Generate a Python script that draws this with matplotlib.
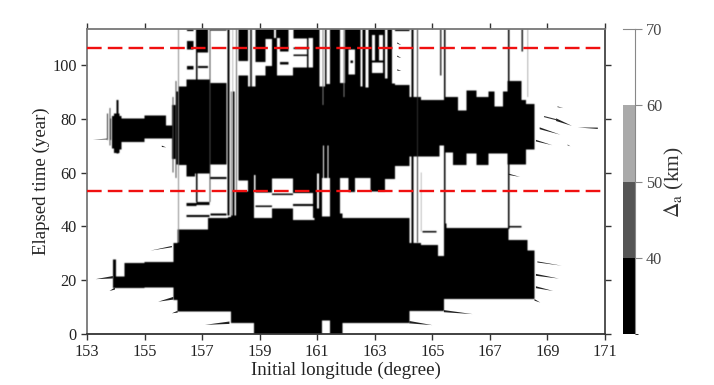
import matplotlib as mpl
mpl.use('Agg')
import matplotlib.pyplot as plt
from matplotlib.colors import ListedColormap, BoundaryNorm
from matplotlib.cm import ScalarMappable
import numpy as np

plt.rcParams['font.family'] = ['Liberation Serif', 'DejaVu Serif']
plt.rcParams['mathtext.fontset'] = 'stix'

X_TICKS = [153, 155, 157, 159, 161, 163, 165, 167, 169, 171]
Y_TICKS = [0, 20, 40, 60, 80, 100]
Y_TOP = 113.3
RED_LINES = [53, 106.2]
CB_LEVELS = [30, 40, 50, 60, 70]
CB_TICKS = [40, 50, 60, 70]
CB_COLORS = ['#000000', '#555555', '#aaaaaa', '#ffffff']

# region with Delta_a below 40 km, lower block: edges, then bottom / top of each piece
lower_lon = [153.9, 154.0, 154.3, 155.0, 156.0, 156.15, 157.2, 157.9, 158.0, 158.2, 158.8, 159.42, 160.15,
             160.9, 161.16, 161.45, 161.8, 161.87, 164.2, 164.6, 165.2, 165.4, 165.5, 167.65, 168.3, 168.55]
lower_bot = [17, 17, 17, 17.3, 12.6, 8.3, 8.3, 8.3, 4, 4, 0, 0, 0,
             0, 5, 0, 0, 4, 8.5, 8.5, 8.5, 13, 13, 13, 13]
lower_top = [27.6, 21.4, 26.3, 26.8, 33.8, 38.8, 43, 43.5, 53, 53, 43, 46.7, 42.3,
             43.7, 43.6, 113.3, 44.8, 43, 33.8, 33, 29, 41, 39.4, 35, 31]

# middle block
upper_lon = [153.8, 153.87, 153.93, 154.13, 154.2, 155.0, 155.75, 155.95, 156.1, 156.2, 156.45, 156.75, 157.25, 157.85, 158.26,
             158.6, 158.85, 159.2, 159.42, 159.6, 160.15, 160.64, 160.7, 160.85, 161.08, 161.16, 161.27, 161.33,
             161.45, 161.8, 161.97, 162.09, 162.32, 162.5, 162.57, 162.67, 162.78, 162.85, 162.9, 163.28, 163.35,
             163.45, 163.6, 163.7, 164.2, 164.6, 165.25, 165.45, 165.72, 165.89, 166.18, 166.53, 166.95, 167.16,
             167.45, 167.62, 168.09, 168.26, 168.55]
upper_bot = [72, 69, 67.3, 68.5, 71.4, 72.6, 72.6, 65, 63, 62.7, 58.5, 59.7, 63, 44, 57,
             53, 52.6, 52.6, 57.8, 57.8, 52.3, 52.3, 52.3, 43, 43, 58, 58, 58,
             43, 58, 58, 52.8, 58, 58, 58, 58, 58, 53, 53, 53, 57.5,
             57.5, 57.5, 62.5, 66, 66, 70, 67.5, 62.7, 62.7, 67, 62.7, 67, 67,
             67, 63, 63, 68.6]
upper_top = [80, 81, 82, 81, 80, 81.2, 77.5, 85, 90, 92, 94.5, 94.5, 93.3, 90, 96,
             92, 96, 99.5, 99, 96, 99, 113.3, 99, 113.3, 92, 92, 113.3, 92.8,
             113.3, 93.3, 113.3, 96.4, 113.3, 92, 113.3, 91.5, 113.3, 113.3, 97, 113.3, 95,
             113.3, 93, 92.5, 88, 87, 87, 88, 88, 83, 90.5, 88, 90, 84.5,
             90, 94, 87, 85.5]

# top block, always runs up to the axes top
top_lon = [156.47, 156.7, 156.78, 157.2, 157.3, 157.85, 158.26, 158.6, 158.85, 159.2, 159.42, 159.6, 159.71,
           160.0, 160.17, 160.64, 160.7, 160.85, 162.09, 162.32, 162.9, 163.28, 163.7, 164.2]
top_bot = [112.5, 113.3, 104.5, 113.3, 112.7, 113.3, 101.5, 113.3, 101, 109.5, 99, 110, 105,
           113.3, 109.8, 113.3, 110, 113.3, 105.7, 113.3, 111, 113.3, 112.5]

# thin vertical streaks: lon, width, from, to, darkness
spike_lon = [153.7, 153.79, 154.03, 155.97, 156.07, 156.17, 156.78, 157.25, 157.89, 158.05, 158.18, 158.66, 161.18,
             161.92, 164.27, 164.47, 164.6, 165.27, 165.4, 167.63, 168.1, 168.3]
spike_w = [0.03, 0.03, 0.06, 0.04, 0.04, 0.03, 0.06, 0.05, 0.06, 0.03, 0.04, 0.08, 0.03,
           0.03, 0.07, 0.04, 0.03, 0.04, 0.06, 0.05, 0.05, 0.03]
spike_y0 = [72, 70, 67, 60, 58, 34, 49, 49, 44, 53, 53, 92, 85,
            88, 33, 34, 38, 96, 28, 39, 105, 88]
spike_y1 = [82, 84, 87, 88, 94, 113.3, 113.3, 113.3, 113.3, 113.3, 113.3, 113.3, 113.3,
            113.3, 113.3, 113.3, 60, 113.3, 113.3, 113.3, 113.3, 113.3]
spike_v = [0.8, 0.7, 1, 0.7, 0.7, 0.45, 1, 0.7, 1, 0.5, 0.6, 0.8, 0.5,
           0.5, 1, 0.8, 0.5, 0.8, 1, 1, 0.9, 0.6]

# white streaks cutting through the black
gap_lon = [153.84, 157.85, 157.95, 158.02, 158.13, 158.22, 158.8, 161.0, 161.2, 161.35, 159.5, 164.36, 164.52]
gap_w = [0.03, 0.04, 0.05, 0.03, 0.05, 0.04, 0.05, 0.07, 0.03, 0.04, 0.06, 0.05, 0.04]
gap_y0 = [68, 44, 44, 44, 44, 53, 47, 46.7, 58, 58, 110, 34, 34]
gap_y1 = [84, 90, 90, 90, 90, 90, 59, 59.7, 70, 70, 113.3, 50, 62]

# stripes inside the white bands
stripe_lon = [156.47, 156.47, 156.85, 159.71, 160.17, 160.17, 163.01, 162.9, 162.15, 156.45, 156.8, 156.45, 157.3,
              157.3, 158.85, 159.42, 160.15, 164.65, 167.65]
stripe_end = [156.7, 156.7, 157.2, 160.0, 160.64, 160.64, 163.15, 163.28, 162.25, 156.8, 157.25, 157.25, 157.85,
              157.9, 159.42, 160.15, 161.0, 165.15, 168.1]
stripe_y0 = [105.7, 98.2, 98.8, 100.2, 103.2, 105.8, 101, 100.9, 100.6, 47.5, 48, 43.4, 57.5,
             44, 47.2, 51.7, 47.6, 37.7, 39.5]
stripe_y1 = [108.8, 99.5, 99.6, 101, 103.9, 106.5, 111, 101.6, 101.6, 48.6, 49, 44.2, 58.3,
             44.8, 47.8, 52.2, 48.2, 38.3, 40.2]

# tapering tails: thick end lon / y, thin end lon / y, thickness
tail_lon0 = [153.9, 153.97, 156.0, 156.15, 157.95, 155.95, 164.2, 165.4, 168.55, 168.6, 168.6, 168.65,
             169.3, 168.73, 168.6, 170.75, 167.65, 153.7, 155.6, 163.78, 163.78, 163.78, 169.35, 169.7]
tail_y0 = [21.1, 16.9, 13.3, 8.3, 4.2, 32.5, 4.4, 8.5, 12.7, 17.4, 22, 26.8,
           79.7, 76.5, 71.9, 76.5, 59.4, 72.5, 69.8, 108.2, 103.3, 98.2, 84.5, 70.3]
tail_lon1 = [153.3, 153.78, 155.47, 155.95, 157.1, 155.2, 165.0, 166.4, 168.75, 169.2, 169.4, 169.5,
             169.85, 169.45, 169.17, 170.05, 168.05, 153.2, 155.75, 163.92, 163.92, 163.92, 169.55, 169.8]
tail_y1 = [20.4, 16, 12, 7.7, 3.4, 31, 3.3, 7.4, 11.7, 16, 20.6, 25.4,
           77.4, 74.1, 70.2, 76.8, 58.4, 72.3, 69.4, 107.4, 102.6, 97.8, 84, 69.8]
tail_th = [0.9, 0.8, 1.0, 0.7, 0.9, 0.5, 0.9, 0.8, 0.6, 0.7, 0.7, 0.4,
           1.0, 0.7, 0.6, 0.5, 0.5, 0.3, 0.5, 0.5, 0.5, 0.5, 0.3, 0.3]
tail2_lon0 = [168.9]
tail2_y0 = [80.8]
tail2_lon1 = [169.3]
tail2_y1 = [79.7]

NX, NY = 1036, 610
lon_c = 153 + (np.arange(NX) + 0.5)*18./NX
yr_c = (np.arange(NY) + 0.5)*Y_TOP/NY
grid = np.zeros((NY, NX))


def put(l0, l1, y0, y1, val):
    grid[np.ix_((yr_c >= y0) & (yr_c < y1), (lon_c >= l0) & (lon_c < l1))] = val


def put_block(lon, bot, top):
    for i in range(len(bot)):
        put(lon[i], lon[i+1], bot[i], top[i], 1.0)


def smooth(arr, axis):
    kernel = np.array([1, 4, 6, 4, 1])/16.
    return np.apply_along_axis(lambda v: np.convolve(np.pad(v, 2, mode='edge'), kernel, mode='valid'), axis, arr)


put_block(lower_lon, lower_bot, lower_top)
put_block(upper_lon, upper_bot, upper_top)
put_block(top_lon, top_bot, [Y_TOP]*len(top_bot))
for i in range(len(stripe_lon)):
    put(stripe_lon[i], stripe_end[i], stripe_y0[i], stripe_y1[i], 1.0)
for i in range(len(spike_lon)):
    put(spike_lon[i], spike_lon[i]+spike_w[i], spike_y0[i], spike_y1[i], spike_v[i])
for i in range(len(gap_lon)):
    put(gap_lon[i], gap_lon[i]+gap_w[i], gap_y0[i], gap_y1[i], 0.0)
grid = smooth(smooth(grid, 0), 1)

fig = plt.figure(figsize=(7.14, 3.85), dpi=100)
ax = fig.add_axes([87/714., 1-334/385., 518/714., 304.7/385.])
ax.imshow(grid, origin='lower', extent=[153, 171, 0, Y_TOP], aspect='auto', cmap='gray_r', vmin=0, vmax=1,
          interpolation='antialiased')

for i in range(len(tail_lon0)):
    ax.fill([tail_lon0[i], tail_lon1[i], tail_lon0[i]],
            [tail_y0[i]+tail_th[i]/2., tail_y1[i], tail_y0[i]-tail_th[i]/2.],
            color='#222222', linewidth=0)
ax.plot(tail2_lon0 + tail2_lon1, tail2_y0 + tail2_y1, color='#333333', lw=0.8)

for y in RED_LINES:
    ax.axhline(y, color='#f01010', lw=1.7, dashes=(6.2, 2.6), zorder=5)

ax.set_xlim(153, 171)
ax.set_ylim(0, Y_TOP)
ax.set_xticks(X_TICKS)
ax.set_yticks(Y_TICKS)
ax.tick_params(axis='both', direction='out', length=4.5, width=1.0, color='#333333', labelsize=11.7,
               top=True, right=True, labelcolor='#222222', pad=3)
for side in ax.spines:
    ax.spines[side].set_linewidth(1.3)
    ax.spines[side].set_color('#777777')
ax.spines['bottom'].set_color('#333333')
ax.spines['right'].set_color('#444444')
ax.set_xlabel('Initial longitude (degree)', fontsize=13.7, color='#222222', labelpad=1)
ax.set_ylabel('Elapsed time (year)', fontsize=13.6, color='#222222')
ax.yaxis.set_label_coords(-0.071, 0.5)

cax = fig.add_axes([623/714., 1-334/385., 12/714., 304.7/385.])
sm = ScalarMappable(norm=BoundaryNorm(CB_LEVELS, 4), cmap=ListedColormap(CB_COLORS))
cb = fig.colorbar(sm, cax=cax, ticks=CB_TICKS, spacing='proportional', drawedges=False)
cb.outline.set_visible(False)
for side in ['right', 'top']:
    cax.spines[side].set_visible(True)
    cax.spines[side].set_color('#888888')
    cax.spines[side].set_linewidth(0.8)
cax.tick_params(length=5, width=0.8, color='#888888', labelsize=11.7, labelcolor='#444444', pad=3)
cb.set_label(r'$\Delta_{\mathrm{a}}$ (km)', fontsize=15.5, color='#333333', labelpad=0)

fig.savefig('out.png', dpi=100, facecolor='white')
